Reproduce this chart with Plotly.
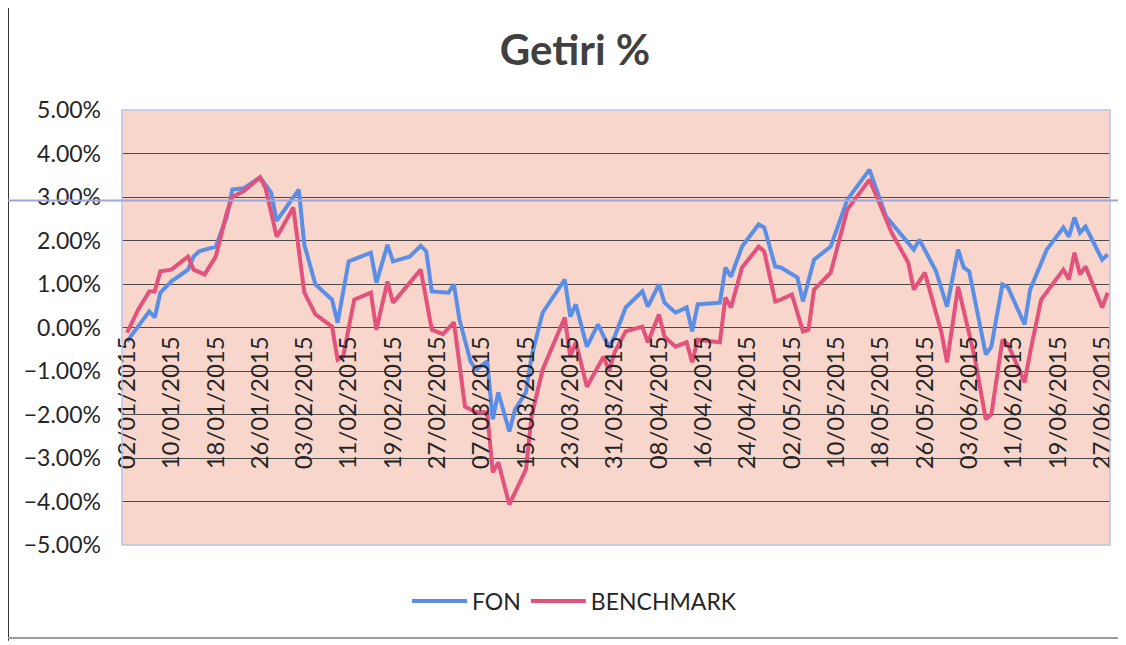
import plotly.graph_objects as go

# ---- data (values in %) ----
fon_dates = ["2015-01-02","2015-01-06","2015-01-07","2015-01-08","2015-01-10","2015-01-13","2015-01-14",
             "2015-01-15","2015-01-18","2015-01-20","2015-01-21","2015-01-23","2015-01-26","2015-01-28",
             "2015-01-29","2015-02-02","2015-02-03","2015-02-04","2015-02-05","2015-02-08","2015-02-09",
             "2015-02-11","2015-02-15","2015-02-16","2015-02-18","2015-02-19","2015-02-22","2015-02-24",
             "2015-02-25","2015-02-26","2015-03-01","2015-03-02","2015-03-03","2015-03-05","2015-03-06",
             "2015-03-08","2015-03-09","2015-03-10","2015-03-12","2015-03-13","2015-03-15","2015-03-16",
             "2015-03-18","2015-03-22","2015-03-23","2015-03-24","2015-03-26","2015-03-28","2015-03-30",
             "2015-03-31","2015-04-02","2015-04-05","2015-04-06","2015-04-08","2015-04-09","2015-04-11",
             "2015-04-13","2015-04-14","2015-04-15","2015-04-19","2015-04-20","2015-04-21","2015-04-23",
             "2015-04-26","2015-04-27","2015-04-29","2015-04-30","2015-05-03","2015-05-04","2015-05-06",
             "2015-05-09","2015-05-12","2015-05-16","2015-05-19","2015-05-24","2015-05-25","2015-05-28",
             "2015-05-30","2015-06-01","2015-06-02","2015-06-03","2015-06-06","2015-06-07","2015-06-09",
             "2015-06-10","2015-06-13","2015-06-14","2015-06-17","2015-06-20","2015-06-21","2015-06-22",
             "2015-06-23","2015-06-24","2015-06-27","2015-06-28"]
fon_values = [-0.32, 0.37, 0.23, 0.80, 1.06, 1.33, 1.63,
              1.75, 1.86, 2.55, 3.17, 3.20, 3.45, 3.10,
              2.45, 3.17, 1.90, 1.45, 0.99, 0.64, 0.11,
              1.52, 1.72, 1.03, 1.90, 1.52, 1.63, 1.88,
              1.75, 0.83, 0.80, 0.99, 0.18, -0.78, -0.97,
              -0.78, -2.11, -1.49, -2.39, -1.89, -1.49, -0.67,
              0.34, 1.10, 0.25, 0.53, -0.44, 0.07, -0.46,
              -0.21, 0.46, 0.83, 0.48, 0.99, 0.57, 0.34,
              0.46, -0.09, 0.53, 0.57, 1.38, 1.17, 1.86,
              2.37, 2.30, 1.40, 1.38, 1.15, 0.60, 1.56,
              1.86, 2.94, 3.63, 2.55, 1.79, 2.02, 1.30,
              0.48, 1.79, 1.38, 1.29, -0.62, -0.44, 0.99,
              0.92, 0.07, 0.87, 1.79, 2.30, 2.09, 2.53,
              2.18, 2.32, 1.56, 1.68]

bench_dates = ["2015-01-02","2015-01-04","2015-01-06","2015-01-07","2015-01-08","2015-01-10","2015-01-13",
               "2015-01-14","2015-01-16","2015-01-18","2015-01-20","2015-01-21","2015-01-23","2015-01-26",
               "2015-01-27","2015-01-29","2015-01-30","2015-02-01","2015-02-03","2015-02-05","2015-02-08",
               "2015-02-09","2015-02-10","2015-02-12","2015-02-15","2015-02-16","2015-02-18","2015-02-19",
               "2015-02-24","2015-02-26","2015-02-28","2015-03-02","2015-03-04","2015-03-06","2015-03-08",
               "2015-03-09","2015-03-10","2015-03-12","2015-03-15","2015-03-16","2015-03-18","2015-03-22",
               "2015-03-23","2015-03-24","2015-03-26","2015-03-29","2015-03-30","2015-03-31","2015-04-02",
               "2015-04-05","2015-04-06","2015-04-08","2015-04-09","2015-04-11","2015-04-13","2015-04-14",
               "2015-04-15","2015-04-19","2015-04-20","2015-04-21","2015-04-23","2015-04-26","2015-04-27",
               "2015-04-29","2015-04-30","2015-05-02","2015-05-04","2015-05-05","2015-05-06","2015-05-09",
               "2015-05-12","2015-05-16","2015-05-20","2015-05-23","2015-05-24","2015-05-26","2015-05-29",
               "2015-05-30","2015-06-01","2015-06-04","2015-06-06","2015-06-07","2015-06-09","2015-06-10",
               "2015-06-13","2015-06-14","2015-06-16","2015-06-20","2015-06-21","2015-06-22","2015-06-23",
               "2015-06-24","2015-06-27","2015-06-28"]
bench_values = [-0.12, 0.41, 0.83, 0.83, 1.29, 1.33, 1.63,
                1.33, 1.22, 1.63, 2.64, 3.00, 3.13, 3.45,
                3.20, 2.09, 2.30, 2.76, 0.80, 0.30, 0.02,
                -0.74, -0.67, 0.64, 0.80, -0.05, 1.06, 0.57,
                1.33, -0.05, -0.15, 0.12, -1.82, -1.95, -1.95,
                -3.33, -3.10, -4.07, -3.26, -2.05, -0.97, 0.23,
                -0.67, -0.34, -1.36, -0.67, -1.00, -0.57, -0.09,
                0.02, -0.34, 0.30, -0.21, -0.44, -0.34, -0.80,
                -0.28, -0.34, 0.69, 0.46, 1.38, 1.86, 1.75,
                0.60, 0.64, 0.76, -0.09, -0.05, 0.87, 1.26,
                2.71, 3.40, 2.18, 1.49, 0.87, 1.26, -0.12,
                -0.80, 0.94, -0.69, -2.11, -2.00, -0.28, -0.39,
                -1.26, -0.57, 0.64, 1.33, 1.10, 1.72, 1.22,
                1.40, 0.46, 0.80]

series_names = ["FON", "BENCHMARK"]
series_colors = ["#5B8EE6", "#E2527A"]

FONT = "Lato"
TXT = "#262626"

fig = go.Figure()
fig.add_trace(go.Scatter(x=fon_dates, y=fon_values, mode="lines", name=series_names[0],
                         line=dict(color=series_colors[0], width=4)))
fig.add_trace(go.Scatter(x=bench_dates, y=bench_values, mode="lines", name=series_names[1],
                         line=dict(color=series_colors[1], width=4)))

fig.update_layout(
    width=1126, height=645,
    margin=dict(l=114, r=24, t=102, b=108),
    paper_bgcolor="white",
    plot_bgcolor="#F9D6CC",
    font=dict(family=FONT, color=TXT, size=23),
    title=dict(text="<b>Getiri %</b>", x=0.5036, xanchor="center", y=0.935, yanchor="middle",
               font=dict(family=FONT, size=42, color="#404040")),
    showlegend=True,
    legend=dict(orientation="h", x=0.458, xanchor="center", y=-0.129, yanchor="middle",
                font=dict(family=FONT, size=23, color=TXT), itemwidth=55,
                bgcolor="rgba(0,0,0,0)"),
    xaxis=dict(type="date", range=["2015-01-01 02:00", "2015-06-28 10:00"],
               tick0="2015-01-02", dtick=8 * 86400000, tickformat="%d/%m/%Y",
               tickangle=-90, showgrid=False, zeroline=False, showline=False,
               anchor="free", position=0.5, ticks="", ticklabelstandoff=3,
               tickfont=dict(family=FONT, size=24, color=TXT)),
    yaxis=dict(range=[-5, 5], dtick=1, tick0=0, ticksuffix="%", tickformat=".2f",
               showgrid=True, gridcolor="#4a4a4a", gridwidth=1,
               zeroline=True, zerolinecolor="#4a4a4a", zerolinewidth=1,
               showline=False, ticks="", ticklabelstandoff=20,
               tickfont=dict(family=FONT, size=23, color=TXT)),
    shapes=[
        # plot-area border
        dict(type="rect", xref="paper", yref="paper", x0=0, x1=1, y0=0, y1=1,
             line=dict(color="#B8C4EC", width=1.5), layer="above"),
        # outer chart frame (scan)
        dict(type="line", xref="paper", yref="paper", x0=-0.1154, x1=-0.1154, y0=-0.22, y1=1.26,
             line=dict(color="#333333", width=2)),
        dict(type="line", xref="paper", yref="paper", x0=-0.1154, x1=1.03, y0=-0.2138, y1=-0.2138,
             line=dict(color="#9a9a9a", width=2)),
        dict(type="line", xref="paper", yref="paper", x0=-0.1154, x1=1.03, y0=1.245, y1=1.245,
             line=dict(color="#b0b0b0", width=2)),
        # scanner artefact line
        dict(type="line", xref="paper", yref="paper", x0=-0.124, x1=1.03, y0=0.792, y1=0.792,
             line=dict(color="#9FA6DA", width=2), layer="above"),
    ],
)

fig.write_html("out.html")
